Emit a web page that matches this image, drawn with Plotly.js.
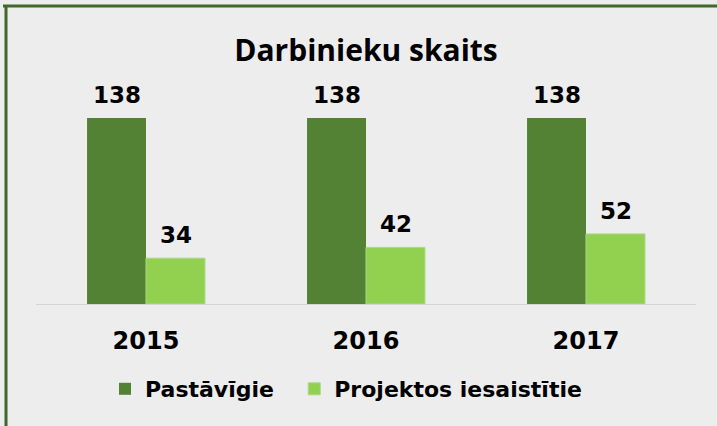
<!DOCTYPE html>
<html>
<head>
<meta charset="utf-8">
<script src="https://cdn.plot.ly/plotly-3.0.1.min.js"></script>
<style>
html,body{margin:0;padding:0;background:#EDEDED;}
#chart{width:717px;height:426px;}
</style>
</head>
<body>
<div id="chart"></div>
<script>
const years = ['2015', '2016', '2017'];
const pastavigie = [138, 138, 138];
const projektos = [34, 42, 52];
const seriesNames = ['Pastāvīgie', 'Projektos iesaistītie'];
const chartTitle = 'Darbinieku skaits';

const labelFont = {family: 'DejaVu Sans', size: 23, color: '#000000', weight: 'bold'};

const traces = [
  {
    type: 'bar', x: years, y: pastavigie, name: seriesNames[0] + '\u00a0\u00a0',
    marker: {color: '#548235', line: {width: 0}},
    hoverinfo: 'x+y'
  },
  {
    type: 'bar', x: years, y: projektos, name: seriesNames[1],
    marker: {color: '#92D050', line: {color: '#A8DA84', width: 1}},
    hoverinfo: 'x+y'
  }
];

// value labels placed through the axes (category + value), offset to each bar of the group
const halfBar = 29.5;
const annotations = [];
[pastavigie, projektos].forEach(function (vals, si) {
  vals.forEach(function (v, i) {
    annotations.push({
      x: years[i], y: v, xref: 'x', yref: 'y',
      text: String(v), showarrow: false,
      xshift: si === 0 ? -halfBar : halfBar, yshift: 8,
      xanchor: 'center', yanchor: 'bottom',
      font: labelFont
    });
  });
});

const layout = {
  width: 717, height: 426,
  paper_bgcolor: '#EDEDED', plot_bgcolor: '#EDEDED',
  margin: {l: 36, r: 21, t: 70, b: 122},
  title: {
    text: chartTitle, x: 0.5, xref: 'paper', xanchor: 'center',
    y: 1 - 50/426, yref: 'container', yanchor: 'middle',
    font: {family: 'Open Sans', size: 30, color: '#000000', weight: 'bold'}
  },
  barmode: 'group', bargap: 0.464, bargroupgap: 0,
  xaxis: {
    showline: true, linecolor: '#D4D4D4', linewidth: 1,
    ticks: '', ticklabelstandoff: 15,
    tickfont: {family: 'DejaVu Sans', size: 24, color: '#000000', weight: 'bold'},
    showgrid: false, zeroline: false, fixedrange: true
  },
  yaxis: {
    range: [0, 173.6], showgrid: false, zeroline: false, showline: false,
    showticklabels: false, ticks: '', fixedrange: true
  },
  annotations: annotations,
  showlegend: true,
  legend: {
    orientation: 'h', x: (105-36)/660, xanchor: 'left',
    y: (304-389)/234, yanchor: 'middle',
    font: {family: 'DejaVu Sans', size: 22, color: '#000000', weight: 'bold'},
    bgcolor: 'rgba(0,0,0,0)', itemclick: false, itemdoubleclick: false
  },
  shapes: [
    {type: 'line', xref: 'paper', yref: 'paper',
     x0: -0.05, x1: 1.2, y0: (304-6)/234, y1: (304-6)/234,
     line: {color: '#41672D', width: 3}},
    {type: 'line', xref: 'paper', yref: 'paper',
     x0: (6-36)/660, x1: (6-36)/660, y0: (304-5)/234, y1: -0.7,
     line: {color: '#41672D', width: 3}}
  ]
};

Plotly.newPlot('chart', traces, layout, {displayModeBar: false, staticPlot: true});
</script>
</body>
</html>
